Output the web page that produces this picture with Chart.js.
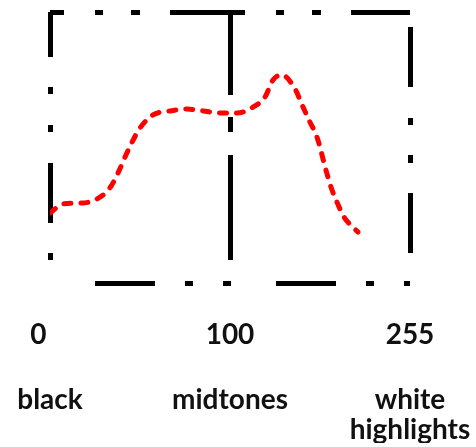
<!DOCTYPE html>
<html lang="en">
<head>
    <meta charset="UTF-8">
    <title>Tonal histogram</title>
    <script src="https://cdn.jsdelivr.net/npm/chart.js"></script>
    <style>
        html, body { margin: 0; padding: 0; background: #fff; }
        #wrap { width: 476px; height: 447px; }
    </style>
</head>
<body>
<div id="wrap"><canvas id="histChart"></canvas></div>
<script>
    // tonal positions: 0 = black point, 1 = midtones, 2 = white point
    const toneTicks = [0, 1, 2];
    const valueTicks = [-0.065, 1, 2];          // the "0" sits a little left of the frame
    const valueLabels = ['0', '100', '255'];
    const zoneLabels = ['black', 'midtones', ['white', 'highlights']];

    // histogram curve (x in tone units, y in % of frame height)
    const curveX = [0, 0.072, 0.178, 0.261, 0.333, 0.378, 0.417, 0.456, 0.5, 0.572, 0.667, 0.761, 0.85, 0.944,
        1.039, 1.128, 1.194, 1.239, 1.289, 1.361, 1.406, 1.444, 1.483, 1.533, 1.561, 1.594, 1.633, 1.694, 1.711];
    const curveY = [25.8, 29.2, 29.5, 31.0, 35.1, 40.6, 46.5, 52.0, 57.2, 62.0, 63.5, 64.2, 63.5, 62.7,
        62.7, 64.9, 68.6, 74.9, 76.8, 71.6, 64.9, 59.4, 53.9, 41.7, 35.4, 29.9, 24.4, 19.9, 18.8];

    const points = curveX.map((x, i) => ({ x: x, y: curveY[i] }));

    // dash-dot-dot frame, one pattern per line
    const vDash = { 0: [60, 30, 7, 31, 7, 31], 1: [83, 22, 15, 23, 105, 23], 2: [60, 31, 7, 30, 8, 30] };
    const vOffset = { 0: 15, 1: 0, 2: 151 };
    const hDash = { 0: [60, 30, 8, 30, 8, 45], 100: [75, 31, 8, 28, 9, 30] };
    const hOffset = { 0: 136, 100: 61 };

    const labelFont = { family: 'Lato, "DejaVu Sans", sans-serif', size: 28, weight: 'bold' };

    // keep the frame where the picture has it, labels may overhang
    function fixAxis(h) {
        return (axis) => {
            axis.height = h;
            axis.paddingLeft = 0;
            axis.paddingRight = 0;
        };
    }

    new Chart(document.getElementById('histChart'), {
        type: 'line',
        data: {
            datasets: [{
                data: points,
                borderColor: '#ff0000',
                borderWidth: 5,
                borderDash: [7, 10],
                borderCapStyle: 'round',
                pointRadius: 0,
                cubicInterpolationMode: 'monotone',
                fill: false
            }]
        },
        options: {
            responsive: true,
            maintainAspectRatio: false,
            animation: false,
            layout: { padding: { left: 50, right: 66, top: 12, bottom: 4 } },
            plugins: { legend: { display: false }, tooltip: { enabled: false } },
            scales: {
                x: {
                    type: 'linear',
                    position: 'bottom',
                    weight: 0,
                    min: 0,
                    max: 2,
                    afterBuildTicks: (axis) => { axis.ticks = valueTicks.map(v => ({ value: v })); },
                    afterFit: fixAxis(64),
                    grid: { display: false, drawTicks: false },
                    border: { display: false },
                    ticks: {
                        padding: 35,
                        color: '#111',
                        font: labelFont,
                        maxRotation: 0,
                        autoSkip: false,
                        callback: (v) => valueLabels[valueTicks.indexOf(v)]
                    }
                },
                x2: {
                    type: 'linear',
                    position: 'bottom',
                    weight: 1,
                    min: 0,
                    max: 2,
                    afterBuildTicks: (axis) => { axis.ticks = toneTicks.map(v => ({ value: v })); },
                    afterFit: fixAxis(96),
                    grid: {
                        color: '#000',
                        lineWidth: 5,
                        drawTicks: false
                    },
                    border: {
                        display: false,
                        dash: (ctx) => vDash[ctx.tick.value] || [],
                        dashOffset: (ctx) => vOffset[ctx.tick.value] || 0
                    },
                    ticks: {
                        padding: 38,
                        color: '#111',
                        font: Object.assign({}, labelFont, { lineHeight: 1.08 }),
                        maxRotation: 0,
                        autoSkip: false,
                        callback: (v) => zoneLabels[toneTicks.indexOf(v)]
                    }
                },
                y: {
                    type: 'linear',
                    min: 0,
                    max: 100,
                    afterBuildTicks: (axis) => { axis.ticks = [{ value: 0 }, { value: 100 }]; },
                    afterFit: (axis) => { axis.width = 0; axis.paddingTop = 0; axis.paddingBottom = 0; },
                    grid: {
                        color: '#000',
                        lineWidth: 5,
                        drawTicks: false
                    },
                    border: {
                        display: false,
                        dash: (ctx) => hDash[ctx.tick.value] || [],
                        dashOffset: (ctx) => hOffset[ctx.tick.value] || 0
                    },
                    ticks: { display: false }
                }
            }
        }
    });
</script>
</body>
</html>
